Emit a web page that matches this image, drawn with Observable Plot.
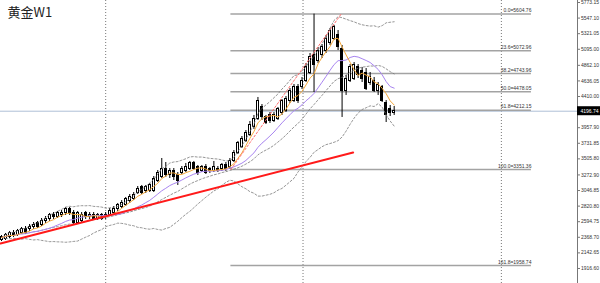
<!DOCTYPE html>
<html><head><meta charset="utf-8">
<script src="https://cdn.jsdelivr.net/npm/d3@7"></script>
<script src="https://cdn.jsdelivr.net/npm/@observablehq/plot@0.6"></script>
<style>html,body{margin:0;padding:0;background:#fff;overflow:hidden}#chart{width:600px;height:283px}</style>
</head><body><div id="chart"></div>
<script>
// ---------- data (weekly candles, price units) ----------
const title = "黄金W1";
const opens = [2336,2351,2380,2438,2409,2438,2496,2482,2511,2569,2554,2598,2627,2699,2670,2685,2714,2772,2728,2569,2612,2714,2656,2699,2641,2685,2656,2699,2728,2772,2815,2844,2888,2931,3018,3091,3033,3047,3047,3192,3250,3352,3265,3337,3279,3308,3337,3366,3439,3381,3337,3395,3352,3337,3366,3366,3424,3381,3482,3598,3685,3772,3859,3961,4091,4251,4106,4135,4062,4091,4164,4207,4352,4352,4555,4555,4642,4758,5005,4932,5005,5077,5179,5251,5295,5106,4497,4642,4671,4831,4787,4758,4613,4642,4497,4541,4309,4236,4164];
const highs = [2394,2424,2453,2467,2482,2511,2525,2554,2583,2598,2641,2670,2714,2728,2743,2757,2801,2801,2757,2743,2728,2743,2728,2728,2714,2714,2728,2786,2815,2859,2902,2946,2989,3018,3105,3120,3120,3149,3250,3337,3511,3453,3366,3366,3308,3395,3439,3468,3468,3410,3410,3424,3381,3468,3395,3439,3453,3511,3627,3758,3830,3917,4048,4135,4396,4294,4135,4178,4178,4251,4367,4410,4526,4584,4584,4686,4889,5034,5604.76,5121,5164,5295,5396,5440,5367,5150,4715,4874,4903,4874,4831,4816,4758,4686,4613,4570,4352,4280,4265];
const lows = [2307,2322,2351,2366,2380,2409,2409,2453,2482,2496,2525,2569,2598,2627,2641,2656,2685,2685,2554,2554,2583,2627,2627,2612,2612,2612,2627,2670,2699,2743,2786,2815,2859,2902,2989,2989,3004,3018,3018,3163,3221,3236,3221,3192,3120,3279,3308,3337,3337,3265,3308,3279,3294,3308,3308,3323,3323,3351.36,3453,3569,3656,3743,3830,3932,4062,4062,4004,4019,4033,4062,4135,4178,4309,4323,4309,4512,4613,4729,4468,4889,4961,5034,5150,5222,5077,4106,4425,4613,4642,4671,4613,4497,4570,4468,4425,4323,4033,4120,4135];
const closes = [2366,2395,2424,2395,2453,2482,2438,2525,2554,2525,2612,2641,2685,2656,2714,2728,2772,2714,2569,2714,2699,2656,2699,2641,2685,2641,2699,2757,2786,2830,2873,2917,2960,2989,3076,3018,3091,3120,3221,3308,3366,3265,3337,3236,3192,3366,3395,3439,3366,3294,3381,3308,3323,3381,3337,3410,3352,3482,3598,3729,3801,3888,4004,4091,4352,4106,4033,4048,4149,4222,4338,4381,4497,4555,4352,4642,4845,4990,4860,5077,5121,5251,5367,5411,5121,4497,4671,4831,4860,4715,4671,4526,4700,4497,4570,4352,4135,4178,4196.74];
const yTicks = [5773.15,5547.10,5321.05,5095.00,4862.10,4636.05,4410.00,3957.90,3731.85,3505.80,3272.90,3046.85,2820.80,2594.75,2368.70,2142.65,1916.60];
const fibRatios = ["0.0","23.6","38.2","50.0","61.8","100.0","161.8"];
const fibPrices = [5604.76,5072.96,4743.96,4478.05,4212.15,3351.36,1958.74];
const fibFromBar = 57.25, fibToBar = 132.25;          // fib object time span (bar index)
const fibDiagBars = [57.25, 84.75];
const fibDiagPrices = [3351.36, 5604.76];
const trendBars = [-0.25, 87.75];
const trendPrices = [2279, 3598];
const gridBars = [26, 75.25, 124.75];
const lastPrice = 4196.74;
const xDomain = [-0.25, 143.75];
const yDomain = [1698.65, 5802.15];

// ---------- build ----------
const data = opens.map((o, i) => ({i, open: o, high: highs[i], low: lows[i], close: closes[i]}));
const fib = fibRatios.map((r, k) => ({ratio: r, price: fibPrices[k]}));
const fibDiag = fibDiagBars.map((b, k) => ({b, p: fibDiagPrices[k]}));
const trend = trendBars.map((b, k) => ({b, p: trendPrices[k]}));
const xMax = xDomain[1];
const popSD = v => { const m = d3.mean(v); return Math.sqrt(d3.mean(v, x => (x - m) ** 2)); };
const dotted = {stroke: "#7a7a7a", strokeWidth: 0.8, strokeDasharray: "2,2"};

function build(withBands) {
  const marks = [
    Plot.ruleX(gridBars, {stroke: "#555", strokeDasharray: "1,2", strokeWidth: 0.8}),
    Plot.ruleY([lastPrice], {stroke: "#aebfd6", strokeWidth: 1}),
    Plot.ruleY(fib, {y: "price", x1: fibFromBar, x2: fibToBar, stroke: "#a3a3a3", strokeWidth: 1.5}),
    Plot.ruleX(data, {x: "i", y1: "low", y2: "high", stroke: "#000", strokeWidth: 1}),
    Plot.rect(data, {x1: d => d.i - 0.25, x2: d => d.i + 0.25, y1: "open", y2: "close",
      fill: d => d.close >= d.open ? "#fff" : "#000", stroke: "#000", strokeWidth: 1, shapeRendering: "crispEdges"})
  ];
  if (withBands) {
    marks.push(
      Plot.lineY(data, Plot.windowY({k: 20, anchor: "end", reduce: "mean"}, {x: "i", y: "close", ...dotted})),
      Plot.lineY(data, Plot.windowY({k: 20, anchor: "end", reduce: v => d3.mean(v) + 2 * popSD(v)}, {x: "i", y: "close", ...dotted})),
      Plot.lineY(data, Plot.windowY({k: 20, anchor: "end", reduce: v => d3.mean(v) - 2 * popSD(v)}, {x: "i", y: "close", ...dotted}))
    );
  }
  marks.push(
    Plot.lineY(data, Plot.windowY({k: 13, anchor: "end"}, {x: "i", y: "close", stroke: "#a884f0", strokeWidth: 1})),
    Plot.lineY(data, Plot.windowY({k: 5, anchor: "end"}, {x: "i", y: "close", stroke: "#f4a93c", strokeWidth: 1})),
    Plot.line(trend, {x: "b", y: "p", stroke: "#ff1a1a", strokeWidth: 2}),
    Plot.line(fibDiag, {x: "b", y: "p", stroke: "#ff6a6a", strokeWidth: 1, strokeDasharray: "2,2"}),
    Plot.text(fib, {x: fibToBar, y: "price", text: d => `${d.ratio}=${d.price.toFixed(2)}`,
      textAnchor: "end", dy: -3.5, fontSize: 5, fill: "#333"}),
    Plot.ruleX([xMax], {stroke: "#777", strokeWidth: 1}),
    Plot.axisY({anchor: "right", ticks: yTicks, tickSize: 2, tickPadding: 1.5, fontSize: 5,
      tickFormat: d => d.toFixed(2), stroke: "#777", fill: "#333"}),
    Plot.rect([lastPrice], {x1: xMax, x2: xMax, y1: d => d, y2: d => d, insetRight: -23,
      insetTop: -4.5, insetBottom: -4.5, fill: "#000"}),
    Plot.text([lastPrice], {x: xMax, y: d => d, text: d => d.toFixed(2), dx: 3, textAnchor: "start",
      fontSize: 5, fill: "#fff"}),
    Plot.text([title], {frameAnchor: "top-left", dx: 7, dy: 7, lineAnchor: "top", textAnchor: "start",
      fontSize: 13, fill: "#222", fontFamily: "'Noto Sans CJK SC', 'Noto Sans', sans-serif"})
  );
  return Plot.plot({
    width: 600, height: 283,
    marginLeft: 0, marginTop: 0, marginBottom: 0, marginRight: 23,
    style: {fontFamily: "'Liberation Sans', Arial, sans-serif", background: "#fff"},
    x: {domain: xDomain, axis: null},
    y: {domain: yDomain, axis: null},
    marks
  });
}
let chart;
try { chart = build(true); } catch (e) { console.error(e); chart = build(false); }
document.getElementById("chart").appendChild(chart);
</script></body></html>
